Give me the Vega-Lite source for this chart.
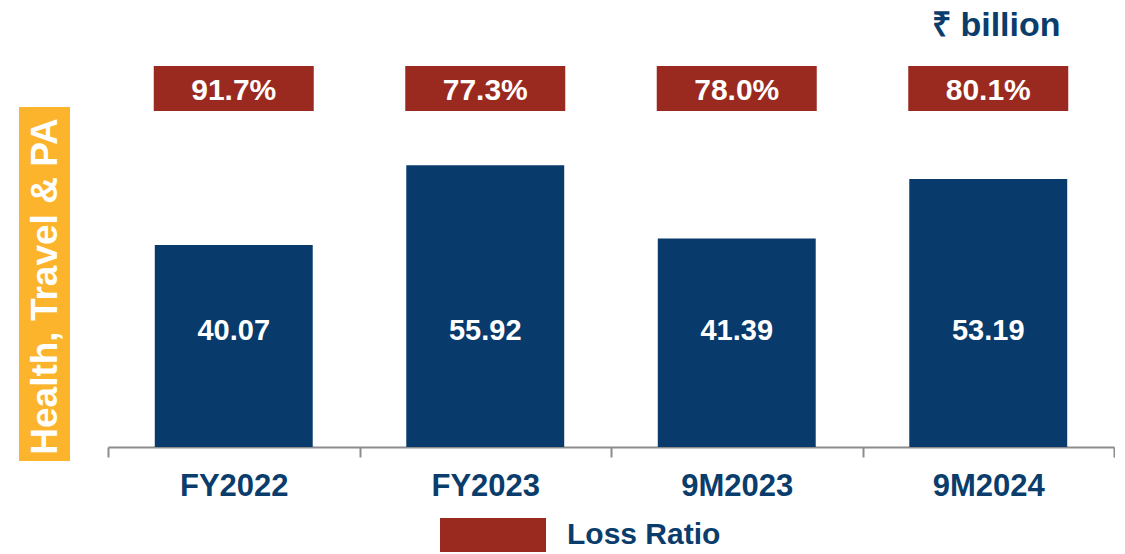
{
  "$schema": "https://vega.github.io/schema/vega-lite/v6.json",
  "padding": {"left": 19, "top": 0, "right": 0, "bottom": 0},
  "config": {"view": {"stroke": null}, "font": "Liberation Sans"},
  "spacing": 37,
  "hconcat": [
    {
      "width": 51,
      "height": 447,
      "data": {"values": [{"label": "Health, Travel & PA"}]},
      "layer": [
        {
          "mark": {"type": "rect", "color": "#FBB42B"},
          "encoding": {
            "x": {"datum": 0, "type": "quantitative", "scale": {"domain": [0, 1], "nice": false, "zero": false}, "axis": null},
            "x2": {"datum": 1},
            "y": {"datum": 67.46, "type": "quantitative", "scale": {"domain": [0, 88.69], "nice": false, "zero": false}, "axis": null},
            "y2": {"datum": -2.78}
          }
        },
        {
          "mark": {"type": "text", "angle": 270, "color": "#FFFFFF", "fontSize": 37, "fontWeight": "bold", "align": "center", "baseline": "middle", "dy": 1},
          "encoding": {
            "x": {"datum": 0.5, "type": "quantitative"},
            "y": {"datum": 31.85, "type": "quantitative"},
            "text": {"field": "label"}
          }
        }
      ]
    },
    {
      "width": 1006,
      "height": 447,
      "data": {"values": [
        {"period": "FY2022", "premium": 40.07, "lossRatio": 0.917},
        {"period": "FY2023", "premium": 55.92, "lossRatio": 0.773},
        {"period": "9M2023", "premium": 41.39, "lossRatio": 0.780},
        {"period": "9M2024", "premium": 53.19, "lossRatio": 0.801}
      ]},
      "encoding": {
        "x": {
          "field": "period", "type": "nominal", "sort": null,
          "scale": {"paddingInner": 0, "paddingOuter": 0},
          "axis": {
            "title": null, "labelAngle": 0,
            "domainColor": "#8C8C8C", "domainWidth": 2,
            "tickColor": "#8C8C8C", "tickWidth": 2, "tickSize": 10, "tickBand": "extent",
            "labelFont": "Liberation Sans", "labelFontWeight": "bold", "labelFontSize": 31,
            "labelColor": "#0A3D6B", "labelPadding": 14
          }
        }
      },
      "layer": [
        {
          "mark": {"type": "bar", "color": "#083A6B", "width": {"band": 0.628}},
          "encoding": {
            "y": {"field": "premium", "type": "quantitative", "scale": {"domain": [0, 88.69], "nice": false, "zero": false}, "axis": null}
          }
        },
        {
          "mark": {"type": "text", "color": "#FFFFFF", "fontSize": 29, "fontWeight": "bold", "baseline": "alphabetic", "align": "center"},
          "encoding": {
            "y": {"datum": 21.2, "type": "quantitative"},
            "text": {"field": "premium", "type": "quantitative", "format": ".2f"}
          }
        },
        {
          "mark": {"type": "bar", "width": 160},
          "encoding": {
            "y": {"datum": 75.6, "type": "quantitative"},
            "y2": {"datum": 66.67},
            "color": {
              "datum": "Loss Ratio",
              "scale": {"domain": ["Loss Ratio"], "range": ["#9A2A20"]},
              "legend": {
                "orient": "none", "legendX": 421, "legendY": 482, "padding": 0,
                "title": null,
                "symbolType": "M-1,-0.32H1V0.32H-1Z", "symbolSize": 11236, "symbolStrokeWidth": 0,
                "labelFont": "Liberation Sans", "labelFontSize": 30, "labelFontWeight": "bold",
                "labelColor": "#0A3D6B", "labelOffset": 21
              }
            }
          }
        },
        {
          "mark": {"type": "text", "color": "#FFFFFF", "fontSize": 30, "fontWeight": "bold", "baseline": "alphabetic", "align": "center"},
          "encoding": {
            "y": {"datum": 68.85, "type": "quantitative"},
            "text": {"field": "lossRatio", "type": "quantitative", "format": ".1%"}
          }
        },
        {
          "data": {"values": [{"unit": "₹ billion", "period": "9M2024"}]},
          "mark": {"type": "text", "color": "#0A3D6B", "fontSize": 34, "fontWeight": "bold", "baseline": "alphabetic", "align": "center", "dx": 8},
          "encoding": {
            "y": {"datum": 81.5, "type": "quantitative"},
            "text": {"field": "unit"}
          }
        }
      ]
    }
  ]
}
